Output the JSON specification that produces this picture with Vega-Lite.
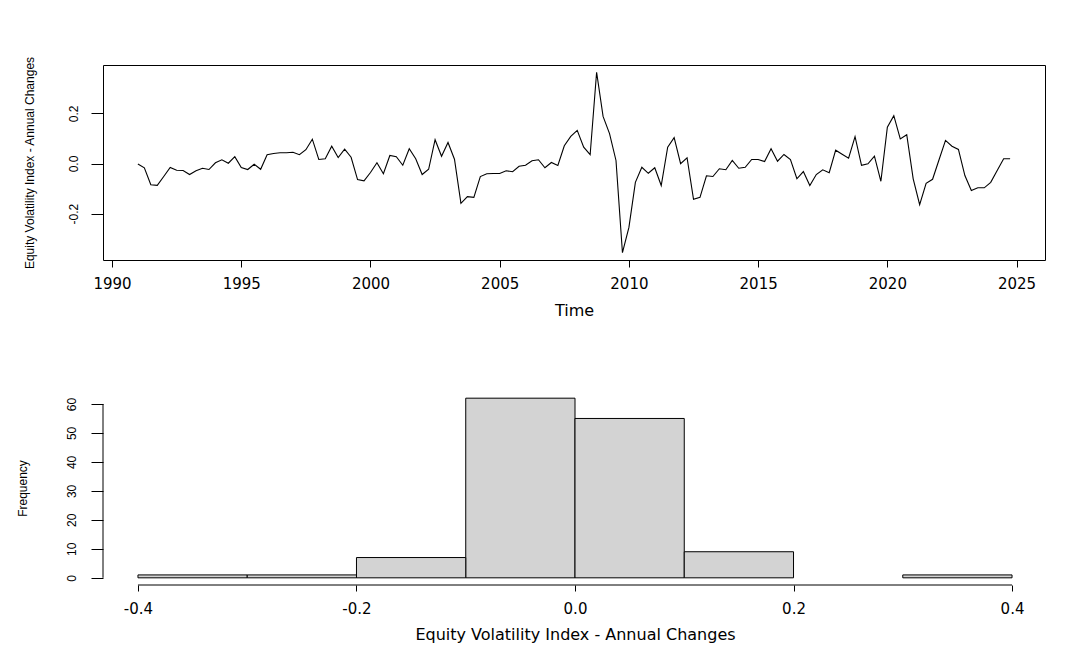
{
  "$schema": "https://vega.github.io/schema/vega-lite/v6.json",
  "autosize": {"type": "pad"},
  "padding": {"left": 16, "top": 55, "right": 31, "bottom": 12},
  "background": "white",
  "bounds": "flush",
  "spacing": 131,
  "config": {
    "view": {"stroke": null},
    "font": "Liberation Sans",
    "axis": {
      "domain": false,
      "grid": false,
      "ticks": true,
      "tickColor": "black",
      "tickWidth": 1,
      "labelColor": "black",
      "titleColor": "black",
      "titleFontWeight": "normal",
      "labelFlush": false,
      "labelOverlap": false
    }
  },
  "datasets": {
    "eq": [
      {"t": 1991.00, "v": -0.002}, {"t": 1991.25, "v": -0.017}, {"t": 1991.50, "v": -0.085}, {"t": 1991.75, "v": -0.087},
      {"t": 1992.00, "v": -0.052}, {"t": 1992.25, "v": -0.016}, {"t": 1992.50, "v": -0.027}, {"t": 1992.75, "v": -0.028},
      {"t": 1993.00, "v": -0.044}, {"t": 1993.25, "v": -0.029}, {"t": 1993.50, "v": -0.019}, {"t": 1993.75, "v": -0.024},
      {"t": 1994.00, "v": 0.003}, {"t": 1994.25, "v": 0.015}, {"t": 1994.50, "v": 0.001}, {"t": 1994.75, "v": 0.027},
      {"t": 1995.00, "v": -0.016}, {"t": 1995.25, "v": -0.024}, {"t": 1995.50, "v": -0.003}, {"t": 1995.75, "v": -0.023},
      {"t": 1996.00, "v": 0.035}, {"t": 1996.25, "v": 0.040}, {"t": 1996.50, "v": 0.043}, {"t": 1996.75, "v": 0.043},
      {"t": 1997.00, "v": 0.045}, {"t": 1997.25, "v": 0.035}, {"t": 1997.50, "v": 0.055}, {"t": 1997.75, "v": 0.097},
      {"t": 1998.00, "v": 0.016}, {"t": 1998.25, "v": 0.019}, {"t": 1998.50, "v": 0.069}, {"t": 1998.75, "v": 0.024},
      {"t": 1999.00, "v": 0.057}, {"t": 1999.25, "v": 0.025}, {"t": 1999.50, "v": -0.064}, {"t": 1999.75, "v": -0.069},
      {"t": 2000.00, "v": -0.036}, {"t": 2000.25, "v": 0.003}, {"t": 2000.50, "v": -0.041}, {"t": 2000.75, "v": 0.032},
      {"t": 2001.00, "v": 0.027}, {"t": 2001.25, "v": -0.007}, {"t": 2001.50, "v": 0.059}, {"t": 2001.75, "v": 0.019},
      {"t": 2002.00, "v": -0.044}, {"t": 2002.25, "v": -0.023}, {"t": 2002.50, "v": 0.095}, {"t": 2002.75, "v": 0.029},
      {"t": 2003.00, "v": 0.084}, {"t": 2003.25, "v": 0.017}, {"t": 2003.50, "v": -0.159}, {"t": 2003.75, "v": -0.132},
      {"t": 2004.00, "v": -0.135}, {"t": 2004.25, "v": -0.052}, {"t": 2004.50, "v": -0.041}, {"t": 2004.75, "v": -0.040},
      {"t": 2005.00, "v": -0.040}, {"t": 2005.25, "v": -0.029}, {"t": 2005.50, "v": -0.033}, {"t": 2005.75, "v": -0.011},
      {"t": 2006.00, "v": -0.007}, {"t": 2006.25, "v": 0.011}, {"t": 2006.50, "v": 0.015}, {"t": 2006.75, "v": -0.017},
      {"t": 2007.00, "v": 0.004}, {"t": 2007.25, "v": -0.008}, {"t": 2007.50, "v": 0.071}, {"t": 2007.75, "v": 0.108},
      {"t": 2008.00, "v": 0.132}, {"t": 2008.25, "v": 0.065}, {"t": 2008.50, "v": 0.035}, {"t": 2008.75, "v": 0.364},
      {"t": 2009.00, "v": 0.188}, {"t": 2009.25, "v": 0.119}, {"t": 2009.50, "v": 0.012}, {"t": 2009.75, "v": -0.356},
      {"t": 2010.00, "v": -0.255}, {"t": 2010.25, "v": -0.075}, {"t": 2010.50, "v": -0.015}, {"t": 2010.75, "v": -0.039},
      {"t": 2011.00, "v": -0.017}, {"t": 2011.25, "v": -0.088}, {"t": 2011.50, "v": 0.065}, {"t": 2011.75, "v": 0.103},
      {"t": 2012.00, "v": -0.001}, {"t": 2012.25, "v": 0.023}, {"t": 2012.50, "v": -0.143}, {"t": 2012.75, "v": -0.135},
      {"t": 2013.00, "v": -0.049}, {"t": 2013.25, "v": -0.052}, {"t": 2013.50, "v": -0.021}, {"t": 2013.75, "v": -0.025},
      {"t": 2014.00, "v": 0.012}, {"t": 2014.25, "v": -0.019}, {"t": 2014.50, "v": -0.015}, {"t": 2014.75, "v": 0.016},
      {"t": 2015.00, "v": 0.016}, {"t": 2015.25, "v": 0.008}, {"t": 2015.50, "v": 0.059}, {"t": 2015.75, "v": 0.009},
      {"t": 2016.00, "v": 0.036}, {"t": 2016.25, "v": 0.016}, {"t": 2016.50, "v": -0.061}, {"t": 2016.75, "v": -0.032},
      {"t": 2017.00, "v": -0.088}, {"t": 2017.25, "v": -0.044}, {"t": 2017.50, "v": -0.025}, {"t": 2017.75, "v": -0.037},
      {"t": 2018.00, "v": 0.053}, {"t": 2018.25, "v": 0.037}, {"t": 2018.50, "v": 0.021}, {"t": 2018.75, "v": 0.107},
      {"t": 2019.00, "v": -0.007}, {"t": 2019.25, "v": -0.001}, {"t": 2019.50, "v": 0.029}, {"t": 2019.75, "v": -0.071},
      {"t": 2020.00, "v": 0.145}, {"t": 2020.25, "v": 0.191}, {"t": 2020.50, "v": 0.098}, {"t": 2020.75, "v": 0.115},
      {"t": 2021.00, "v": -0.061}, {"t": 2021.25, "v": -0.164}, {"t": 2021.50, "v": -0.079}, {"t": 2021.75, "v": -0.063},
      {"t": 2022.00, "v": 0.015}, {"t": 2022.25, "v": 0.092}, {"t": 2022.50, "v": 0.069}, {"t": 2022.75, "v": 0.056},
      {"t": 2023.00, "v": -0.048}, {"t": 2023.25, "v": -0.108}, {"t": 2023.50, "v": -0.097}, {"t": 2023.75, "v": -0.097},
      {"t": 2024.00, "v": -0.075}, {"t": 2024.25, "v": -0.028}, {"t": 2024.50, "v": 0.019}, {"t": 2024.75, "v": 0.019}
    ]
  },
  "vconcat": [
    {
      "width": 942,
      "height": 195,
      "view": {"stroke": "black", "strokeWidth": 1},
      "data": {"name": "eq"},
      "mark": {"type": "line", "color": "black", "strokeWidth": 1.1},
      "encoding": {
        "x": {
          "field": "t",
          "type": "quantitative",
          "scale": {"domain": [1989.65, 2026.1], "nice": false, "zero": false},
          "axis": {
            "title": "Time",
            "values": [1990, 1995, 2000, 2005, 2010, 2015, 2020, 2025],
            "format": "d",
            "labelFont": "DejaVu Sans",
            "labelFontSize": 15,
            "tickSize": 7,
            "labelPadding": 9,
            "titleFont": "DejaVu Sans",
            "titleFontSize": 16,
            "titleY": 50,
            "titleBaseline": "middle"
          }
        },
        "y": {
          "field": "v",
          "type": "quantitative",
          "scale": {"domain": [-0.385, 0.393], "nice": false, "zero": false},
          "axis": {
            "title": "Equity Volatility Index - Annual Changes",
            "values": [-0.2, 0, 0.2],
            "labelExpr": "datum.value < 0 ? '-' + format(-datum.value, '.1f') : format(datum.value, '.1f')",
            "labelAngle": -90,
            "labelAlign": "center",
            "labelBaseline": "bottom",
            "labelFontSize": 12,
            "tickSize": 12,
            "labelPadding": 11,
            "titleFontSize": 12,
            "titleX": -74,
            "titleY": 97.5,
            "titleAlign": "center",
            "titleBaseline": "middle"
          }
        }
      }
    },
    {
      "width": 944,
      "height": 194,
      "layer": [
        {
          "data": {"name": "eq"},
          "transform": [
            {"bin": {"extent": [-0.4, 0.4], "step": 0.1}, "field": "v", "as": ["b0", "b1"]},
            {"aggregate": [{"op": "count", "as": "n"}], "groupby": ["b0", "b1"]}
          ],
          "mark": {"type": "rect", "fill": "#D3D3D3", "stroke": "black", "strokeWidth": 1},
          "encoding": {
            "x": {
              "field": "b0",
              "type": "quantitative",
              "scale": {"domain": [-0.432, 0.432], "nice": false, "zero": false},
              "axis": {
                "title": "Equity Volatility Index - Annual Changes",
                "values": [-0.4, -0.2, 0, 0.2, 0.4],
                "labelExpr": "datum.value < 0 ? '-' + format(-datum.value, '.1f') : format(datum.value, '.1f')",
                "labelFont": "DejaVu Sans",
                "labelFontSize": 15,
                "tickSize": 6,
                "labelPadding": 10,
                "titleFont": "DejaVu Sans",
                "titleFontSize": 16,
                "titleY": 49.5,
                "titleBaseline": "middle"
              }
            },
            "x2": {"field": "b1"},
            "y": {
              "field": "n",
              "type": "quantitative",
              "scale": {"domain": [-2.48, 64.48], "nice": false, "zero": false},
              "axis": {
                "title": "Frequency",
                "values": [0, 10, 20, 30, 40, 50, 60],
                "format": "d",
                "labelAngle": -90,
                "labelAlign": "center",
                "labelBaseline": "bottom",
                "labelFontSize": 12,
                "tickSize": 12,
                "labelPadding": 13,
                "titleFontSize": 12,
                "titleX": -81,
                "titleY": 97,
                "titleAlign": "center",
                "titleBaseline": "middle"
              }
            },
            "y2": {"datum": 0}
          }
        },
        {
          "data": {"values": [{}]},
          "mark": {"type": "rule", "color": "black", "strokeWidth": 1},
          "encoding": {
            "x": {
              "datum": -0.4,
              "type": "quantitative",
              "axis": {
                "title": "Equity Volatility Index - Annual Changes",
                "values": [-0.4, -0.2, 0, 0.2, 0.4],
                "labelExpr": "datum.value < 0 ? '-' + format(-datum.value, '.1f') : format(datum.value, '.1f')",
                "labelFont": "DejaVu Sans",
                "labelFontSize": 15,
                "tickSize": 6,
                "labelPadding": 10,
                "titleFont": "DejaVu Sans",
                "titleFontSize": 16,
                "titleY": 49.5,
                "titleBaseline": "middle"
              }
            },
            "x2": {"datum": 0.4},
            "y": {
              "datum": -2.48,
              "type": "quantitative",
              "axis": {
                "title": "Frequency",
                "values": [0, 10, 20, 30, 40, 50, 60],
                "format": "d",
                "labelAngle": -90,
                "labelAlign": "center",
                "labelBaseline": "bottom",
                "labelFontSize": 12,
                "tickSize": 12,
                "labelPadding": 13,
                "titleFontSize": 12,
                "titleX": -81,
                "titleY": 97,
                "titleAlign": "center",
                "titleBaseline": "middle"
              }
            }
          }
        },
        {
          "data": {"values": [{}]},
          "mark": {"type": "rule", "color": "black", "strokeWidth": 1},
          "encoding": {
            "x": {
              "datum": -0.432,
              "type": "quantitative",
              "axis": {
                "title": "Equity Volatility Index - Annual Changes",
                "values": [-0.4, -0.2, 0, 0.2, 0.4],
                "labelExpr": "datum.value < 0 ? '-' + format(-datum.value, '.1f') : format(datum.value, '.1f')",
                "labelFont": "DejaVu Sans",
                "labelFontSize": 15,
                "tickSize": 6,
                "labelPadding": 10,
                "titleFont": "DejaVu Sans",
                "titleFontSize": 16,
                "titleY": 49.5,
                "titleBaseline": "middle"
              }
            },
            "y": {
              "datum": 0,
              "type": "quantitative",
              "axis": {
                "title": "Frequency",
                "values": [0, 10, 20, 30, 40, 50, 60],
                "format": "d",
                "labelAngle": -90,
                "labelAlign": "center",
                "labelBaseline": "bottom",
                "labelFontSize": 12,
                "tickSize": 12,
                "labelPadding": 13,
                "titleFontSize": 12,
                "titleX": -81,
                "titleY": 97,
                "titleAlign": "center",
                "titleBaseline": "middle"
              }
            },
            "y2": {"datum": 60}
          }
        }
      ]
    }
  ]
}
